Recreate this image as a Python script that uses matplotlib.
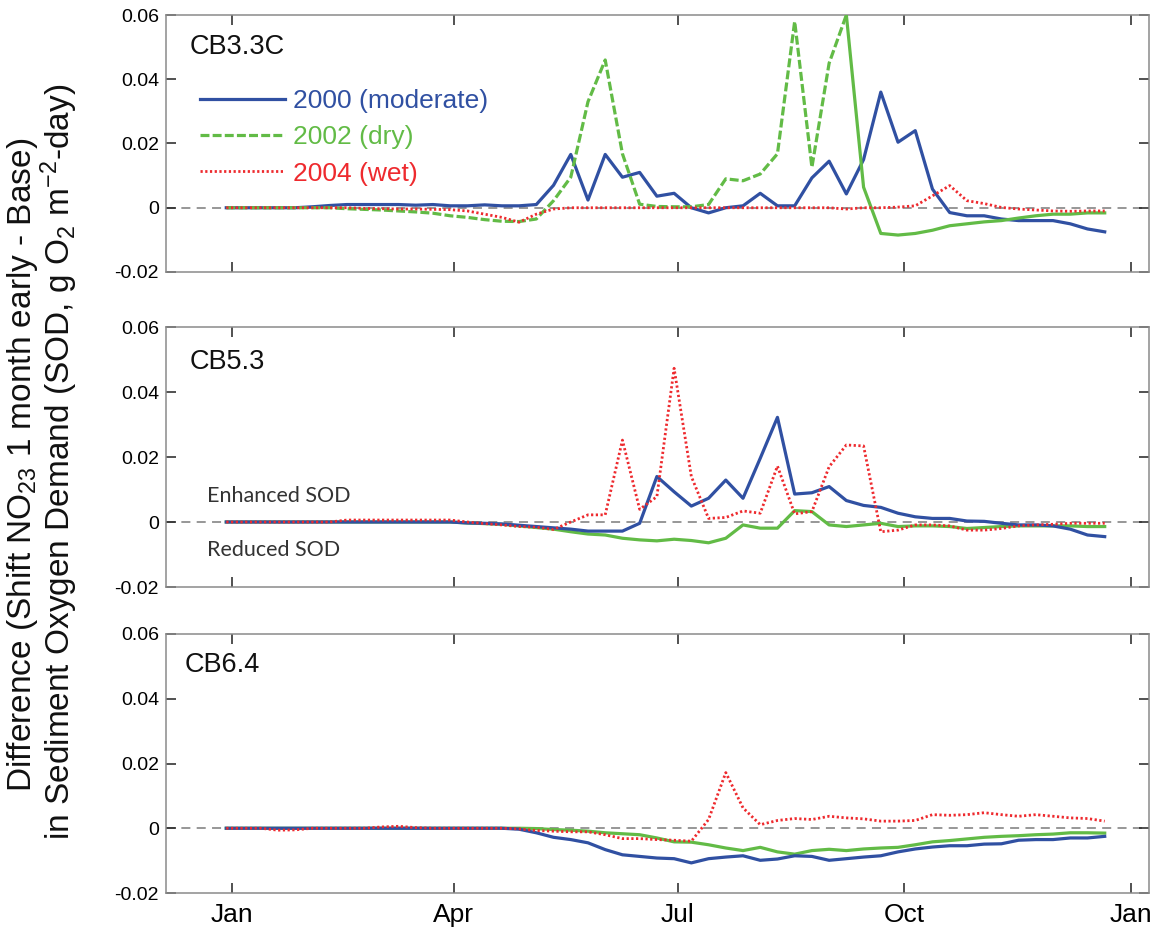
import numpy as np
import matplotlib
matplotlib.use("Agg")
import matplotlib.pyplot as plt

plt.rcParams['font.family'] = ['Liberation Sans', 'DejaVu Sans']
plt.rcParams['mathtext.fontset'] = 'custom'
plt.rcParams['mathtext.rm'] = 'Liberation Sans'
plt.rcParams['mathtext.it'] = 'Liberation Sans:italic'
plt.rcParams['mathtext.bf'] = 'Liberation Sans:bold'

# Weekly model output dates (day of year)
days = np.arange(52) * 7 - 2.5

month_ticks = [0, 90, 181, 273, 365]
month_labels = ['Jan', 'Apr', 'Jul', 'Oct', 'Jan']
ytick_vals = [-0.02, 0, 0.02, 0.04, 0.06]
ytick_labels = ['-0.02', '0', '0.02', '0.04', '0.06']

stations = ['CB3.3C', 'CB5.3', 'CB6.4']
series_labels = ['2000 (moderate)', '2002 (dry)', '2004 (wet)']

# CB3.3C
cb33c_2000 = [0, 0, 0, 0, 0, 0.0003, 0.0007, 0.001, 0.001, 0.001, 0.001, 0.0008, 0.001,
              0.0006, 0.0006, 0.0009, 0.0006, 0.0006, 0.001, 0.007, 0.0166, 0.0024, 0.0166,
              0.0095, 0.011, 0.0036, 0.0045, 0.0, -0.0016, 0.0, 0.0006, 0.0045, 0.0006, 0.0006,
              0.0093, 0.0145, 0.0043, 0.015, 0.036, 0.0204, 0.024, 0.0058, -0.0015, -0.0025,
              -0.0025, -0.0035, -0.004, -0.004, -0.004, -0.005, -0.0066, -0.0075]
cb33c_2002 = [0, 0, 0, 0, 0, 0, 0, -0.0003, -0.0005, -0.0007, -0.001, -0.0013, -0.0017,
              -0.0025, -0.003, -0.0037, -0.0042, -0.0043, -0.0035, 0.0022, 0.0095, 0.033, 0.046,
              0.0168, 0.0011, 0.0004, 0.0003, 0.0003, 0.001, 0.009, 0.0084, 0.0105, 0.0168, 0.058,
              0.0126, 0.045, 0.060, 0.0064, -0.008, -0.0085, -0.008, -0.007, -0.0056, -0.005,
              -0.0044, -0.004, -0.0032, -0.0025, -0.002, -0.002, -0.0016, -0.0016]
cb33c_2004 = [0, 0, 0, 0, 0, 0, 0, 0, -0.0002, -0.0003, -0.0004, -0.0004, -0.0005, -0.0006,
              -0.001, -0.002, -0.003, -0.0045, -0.002, -0.0004, 0, 0, 0, 0, 0, 0, 0, 0, 0, 0, 0,
              0, 0, 0, 0, 0, -0.0004, 0, 0, 0.0002, 0.0006, 0.0037, 0.0069, 0.0022, 0.0013,
              0.0001, -0.0004, -0.0007, -0.001, -0.0011, -0.001, -0.001]

# CB5.3
cb53_2000 = [0, 0, 0, 0, 0, 0, 0, 0, 0, 0, 0, 0, 0, 0, -0.0003, -0.0004, -0.0006, -0.001,
             -0.0014, -0.0018, -0.0022, -0.0028, -0.0028, -0.0028, -0.0004, 0.014, 0.0093,
             0.0049, 0.0073, 0.0129, 0.0073, 0.0196, 0.0322, 0.0086, 0.009, 0.0109, 0.0066,
             0.0051, 0.0045, 0.0027, 0.0016, 0.0011, 0.0011, 0.0003, 0.0002, -0.0004, -0.0009,
             -0.0009, -0.0012, -0.0022, -0.004, -0.0045]
cb53_2002 = [0, 0, 0, 0, 0, 0, 0, 0, 0, 0, 0, 0, 0, 0, -0.0003, -0.0005, -0.0007, -0.0012,
             -0.0017, -0.0022, -0.003, -0.0037, -0.004, -0.005, -0.0055, -0.0058, -0.0053,
             -0.0057, -0.0064, -0.005, -0.0009, -0.0019, -0.0019, 0.0035, 0.0032, -0.0009,
             -0.0014, -0.0009, -0.0004, -0.0014, -0.0012, -0.0012, -0.0014, -0.002, -0.0017,
             -0.0014, -0.0012, -0.0012, -0.0012, -0.0012, -0.0014, -0.0014]
cb53_2004 = [0, 0, 0, 0, 0, 0, 0, 0.0006, 0.0006, 0.0006, 0.0006, 0.0006, 0.0006, 0.0006,
             0.0, -0.0005, -0.0009, -0.0014, -0.0016, -0.0023, 0.0, 0.0022, 0.0022, 0.0252,
             0.0039, 0.0078, 0.0473, 0.014, 0.0011, 0.0014, 0.0034, 0.0027, 0.0172, 0.0025,
             0.0032, 0.017, 0.0237, 0.0234, -0.003, -0.0025, -0.0009, -0.0009, -0.0012,
             -0.0025, -0.0025, -0.002, -0.0012, -0.0009, -0.0007, -0.0004, -0.0004, -0.0004]

# CB6.4
cb64_2000 = [0, 0, 0, 0, 0, 0, 0, 0, 0, 0, 0, 0, 0, 0, 0, 0, 0, -0.0003, -0.0014, -0.0028,
             -0.0035, -0.0045, -0.0066, -0.0082, -0.0087, -0.0092, -0.0094, -0.0107, -0.0094,
             -0.0089, -0.0085, -0.0099, -0.0095, -0.0085, -0.0087, -0.0099, -0.0094, -0.0089,
             -0.0085, -0.0073, -0.0064, -0.0058, -0.0054, -0.0054, -0.0049, -0.0048, -0.0037,
             -0.0035, -0.0035, -0.003, -0.003, -0.0025]
cb64_2002 = [0, 0, 0, 0, 0, 0, 0, 0, 0, 0, 0, 0, 0, 0, 0, 0, 0, 0, -0.0001, -0.0004, -0.0006,
             -0.0009, -0.0014, -0.0017, -0.002, -0.003, -0.0042, -0.0043, -0.0051, -0.0061,
             -0.0069, -0.0059, -0.0073, -0.008, -0.0069, -0.0065, -0.0069, -0.0064, -0.0061,
             -0.0059, -0.0051, -0.0042, -0.0038, -0.0033, -0.0028, -0.0025, -0.0023, -0.002,
             -0.0018, -0.0014, -0.0014, -0.0015]
cb64_2004 = [0, 0, 0, -0.0006, -0.0005, 0, 0, 0, 0, 0.0004, 0.0006, 0.0002, 0, 0, 0, 0, 0,
             -0.0002, -0.0007, -0.0009, -0.0011, -0.0011, -0.002, -0.0032, -0.0032, -0.0035,
             -0.0037, -0.004, 0.0027, 0.0172, 0.0063, 0.0011, 0.0024, 0.003, 0.0027, 0.0037,
             0.0032, 0.0029, 0.0022, 0.0022, 0.0024, 0.0042, 0.004, 0.0042, 0.0048, 0.0042,
             0.0037, 0.0042, 0.0037, 0.0032, 0.003, 0.0022]

data = [
    (cb33c_2000, cb33c_2002, cb33c_2004),
    (cb53_2000, cb53_2002, cb53_2004),
    (cb64_2000, cb64_2002, cb64_2004),
]

c_blue = '#3050a2'
c_green = '#62bb46'
c_red = '#ee2a2e'
dash_green = (0, (2.8, 1.0))
dot_red = (0, (0.8, 0.9))

fig = plt.figure(figsize=(11.56, 9.3), dpi=100)

left, width = 166 / 1156, 983 / 1156
panel_px = [(15, 272), (327, 587), (634, 893)]

axes = []
for k, (top, bot) in enumerate(panel_px):
    ax = fig.add_axes([left, 1 - bot / 930, width, (bot - top) / 930])
    axes.append(ax)
    y2000, y2002, y2004 = [np.asarray(v) for v in data[k]]

    ax.axhline(0, color='#8f8f8f', lw=1.3, ls=(0, (5, 3.5)), zorder=1)

    h_blue, = ax.plot(days, y2000, color=c_blue, lw=2.3, zorder=3, label=series_labels[0])
    if k == 0:
        # dashed through the summer peaks, solid for the autumn recession
        h_green, = ax.plot(days[:37], y2002[:37], color=c_green, lw=2.3,
                           ls=dash_green, zorder=4, label=series_labels[1])
        ax.plot(days[36:], y2002[36:], color=c_green, lw=2.3, zorder=4)
    else:
        ax.plot(days, y2002, color=c_green, lw=2.3, zorder=2)
    h_red, = ax.plot(days, y2004, color=c_red, lw=2.0, ls=dot_red, zorder=5,
                     label=series_labels[2])

    ax.set_xlim(-27, 372.5)
    ax.set_ylim(-0.02, 0.06)
    ax.set_xticks(month_ticks)
    ax.set_yticks(ytick_vals)
    ax.set_yticklabels(ytick_labels)
    if k == 2:
        ax.set_xticklabels(month_labels, fontsize=19)
    else:
        ax.set_xticklabels([])
    ax.tick_params(axis='both', direction='in', length=7, width=1.1, color='#222222',
                   top=True, right=True, labelsize=14, pad=5)
    ax.tick_params(axis='x', labelsize=19, pad=7)
    for s in ax.spines.values():
        s.set_color('#8a8a8a')
        s.set_linewidth(1.1)

    if k == 0:
        ax.legend(handles=[h_blue, h_green, h_red], loc='upper left',
                  bbox_to_anchor=(0.035, 0.713), frameon=False, fontsize=19,
                  handlelength=3.2, handletextpad=0.3, labelspacing=0.47,
                  borderpad=0, borderaxespad=0, labelcolor='linecolor')

panel_pos = [(0.0244, 0.877), (0.0244, 0.867), (0.0193, 0.882)]
for ax, name, (px, py) in zip(axes, stations, panel_pos):
    ax.text(px, py, name, transform=ax.transAxes, fontsize=19.5, va='center', ha='left',
            color='#111111')

axes[1].text(0.0414, 0.351, 'Enhanced SOD', transform=axes[1].transAxes, fontsize=15.5,
             va='center', ha='left', color='#333333', family=['Lato', 'DejaVu Sans'])
axes[1].text(0.0414, 0.142, 'Reduced SOD', transform=axes[1].transAxes, fontsize=15.5,
             va='center', ha='left', color='#333333', family=['Lato', 'DejaVu Sans'])

fig.text(23 / 1156, 1 - 465 / 930, r'Difference (Shift NO$_{23}$ 1 month early - Base)',
         rotation=90, ha='center', va='center', fontsize=24, color='#111111')
fig.text(59 / 1156, 1 - 462 / 930,
         r'in Sediment Oxygen Demand (SOD, g O$_2$ m$^{-2}$-day)',
         rotation=90, ha='center', va='center', fontsize=24, color='#111111')

fig.savefig('out.png', dpi=100)
